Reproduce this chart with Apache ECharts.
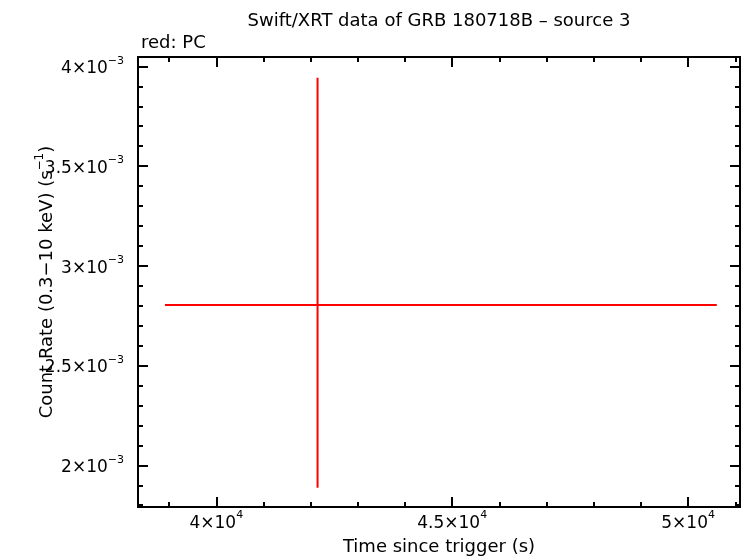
<!DOCTYPE html>
<html>
<head>
<meta charset="utf-8">
<script src="https://cdn.jsdelivr.net/npm/echarts@6/dist/echarts.min.js"></script>
<style>html,body{margin:0;padding:0;background:#fff}#c{width:746px;height:558px}</style>
</head>
<body>
<div id="c"></div>
<script>
// ---- data ----
var times = [42146];
var timeLo = [38911];
var timeHi = [50608];
var rates = [0.002804];
var rateLo = [0.001888];
var rateHi = [0.003943];

// ---- tick labels ----
var xMajorTicks = [40000, 45000, 50000];
var xMajorMant = ['4', '4.5', '5'];
var xExp = '4';
var xMinorTicks = [39000, 40000, 41000, 42000, 43000, 44000, 45000, 46000, 47000, 48000, 49000, 50000, 51000];
var yMajorTicks = [0.002, 0.0025, 0.003, 0.0035, 0.004];
var yMajorMant = ['2', '2.5', '3', '3.5', '4'];
var yExp = '−3';
var yMinorTicks = [0.0018, 0.0019, 0.002, 0.0021, 0.0022, 0.0023, 0.0024, 0.0025, 0.0026, 0.0027, 0.0028, 0.0029, 0.003, 0.0031, 0.0032, 0.0033, 0.0034, 0.0035, 0.0036, 0.0037, 0.0038, 0.0039, 0.004];

var XMIN = 38340, XMAX = 51100, YMIN = 0.001791, YMAX = 0.004047;
var FONT = 'DejaVu Sans';

var rich = {
  b: {fontSize: 17, fontFamily: FONT, color: '#000', lineHeight: 22, verticalAlign: 'bottom'},
  s: {fontSize: 11, fontFamily: FONT, color: '#000', lineHeight: 22, verticalAlign: 'top'}
};

function fmt(ticks, mant, exp) {
  return function (v) {
    for (var i = 0; i < ticks.length; i++) {
      if (Math.abs(ticks[i] - v) <= Math.abs(v) * 1e-6) return '{b|' + mant[i] + '×10}{s|' + exp + '}';
    }
    return '';
  };
}

function xAx(pos, major, withLabel) {
  return {
    type: 'value', position: pos, min: XMIN, max: XMAX,
    gridIndex: 0,
    axisLine: {show: true, onZero: false, lineStyle: {color: '#000', width: 2}},
    splitLine: {show: false},
    axisTick: {show: true, inside: true, length: major ? 10 : 5,
      customValues: major ? xMajorTicks : xMinorTicks,
      lineStyle: {color: '#000', width: 2}},
    axisLabel: withLabel ? {show: true, customValues: xMajorTicks, formatter: fmt(xMajorTicks, xMajorMant, xExp),
      rich: rich, margin: 3} : {show: false},
    name: withLabel ? 'Time since trigger (s)' : '',
    nameLocation: 'middle', nameGap: 31,
    nameTextStyle: {fontSize: 18, fontFamily: FONT, color: '#000'}
  };
}
function yAx(pos, major, withLabel) {
  return {
    type: 'value', position: pos, min: YMIN, max: YMAX,
    gridIndex: 0,
    axisLine: {show: true, onZero: false, lineStyle: {color: '#000', width: 2}},
    splitLine: {show: false},
    axisTick: {show: true, inside: true, length: major ? 10 : 5,
      customValues: major ? yMajorTicks : yMinorTicks,
      lineStyle: {color: '#000', width: 2}},
    axisLabel: withLabel ? {show: true, customValues: yMajorTicks, formatter: fmt(yMajorTicks, yMajorMant, yExp),
      rich: rich, margin: 14} : {show: false},
    name: withLabel ? '{n|Count Rate (0.3−10 keV) (s}{ns|−1}{n|)}' : '',
    nameLocation: 'middle', nameGap: 82,
    nameMoveOverlap: false,
    nameTextStyle: {rich: {
      n: {fontSize: 18, fontFamily: FONT, color: '#000', lineHeight: 22, verticalAlign: 'bottom'},
      ns: {fontSize: 12, fontFamily: FONT, color: '#000', lineHeight: 22, verticalAlign: 'top'}
    }}
  };
}

var chart = echarts.init(document.getElementById('c'), null, {renderer: 'canvas'});
chart.setOption({
  animation: false,
  backgroundColor: '#fff',
  title: [
    {text: 'Swift/XRT data of GRB 180718B – source 3', left: 434, top: 7, textAlign: 'center',
      textStyle: {fontSize: 18, fontWeight: 'normal', fontFamily: FONT, color: '#000'}},
    {text: 'red: PC', left: 136, top: 29,
      textStyle: {fontSize: 18, fontWeight: 'normal', fontFamily: FONT, color: '#000'}}
  ],
  grid: {left: 138, right: 6, top: 57, bottom: 51, containLabel: false, outerBoundsMode: 'none'},
  xAxis: [xAx('bottom', true, true), xAx('bottom', false, false), xAx('top', true, false), xAx('top', false, false)],
  yAxis: [yAx('left', true, true), yAx('left', false, false), yAx('right', true, false), yAx('right', false, false)],
  series: [{
    type: 'custom',
    xAxisIndex: 0, yAxisIndex: 0,
    data: times.map(function (t, i) { return [t, rates[i], timeLo[i], timeHi[i], rateLo[i], rateHi[i]]; }),
    renderItem: function (params, api) {
      var l = api.coord([api.value(2), api.value(1)]);
      var r = api.coord([api.value(3), api.value(1)]);
      var b = api.coord([api.value(0), api.value(4)]);
      var t = api.coord([api.value(0), api.value(5)]);
      var st = {stroke: '#ff0000', lineWidth: 2};
      return {type: 'group', children: [
        {type: 'line', shape: {x1: l[0], y1: l[1], x2: r[0], y2: r[1]}, style: st},
        {type: 'line', shape: {x1: b[0], y1: b[1], x2: t[0], y2: t[1]}, style: st}
      ]};
    }
  }]
});
</script>
</body>
</html>
